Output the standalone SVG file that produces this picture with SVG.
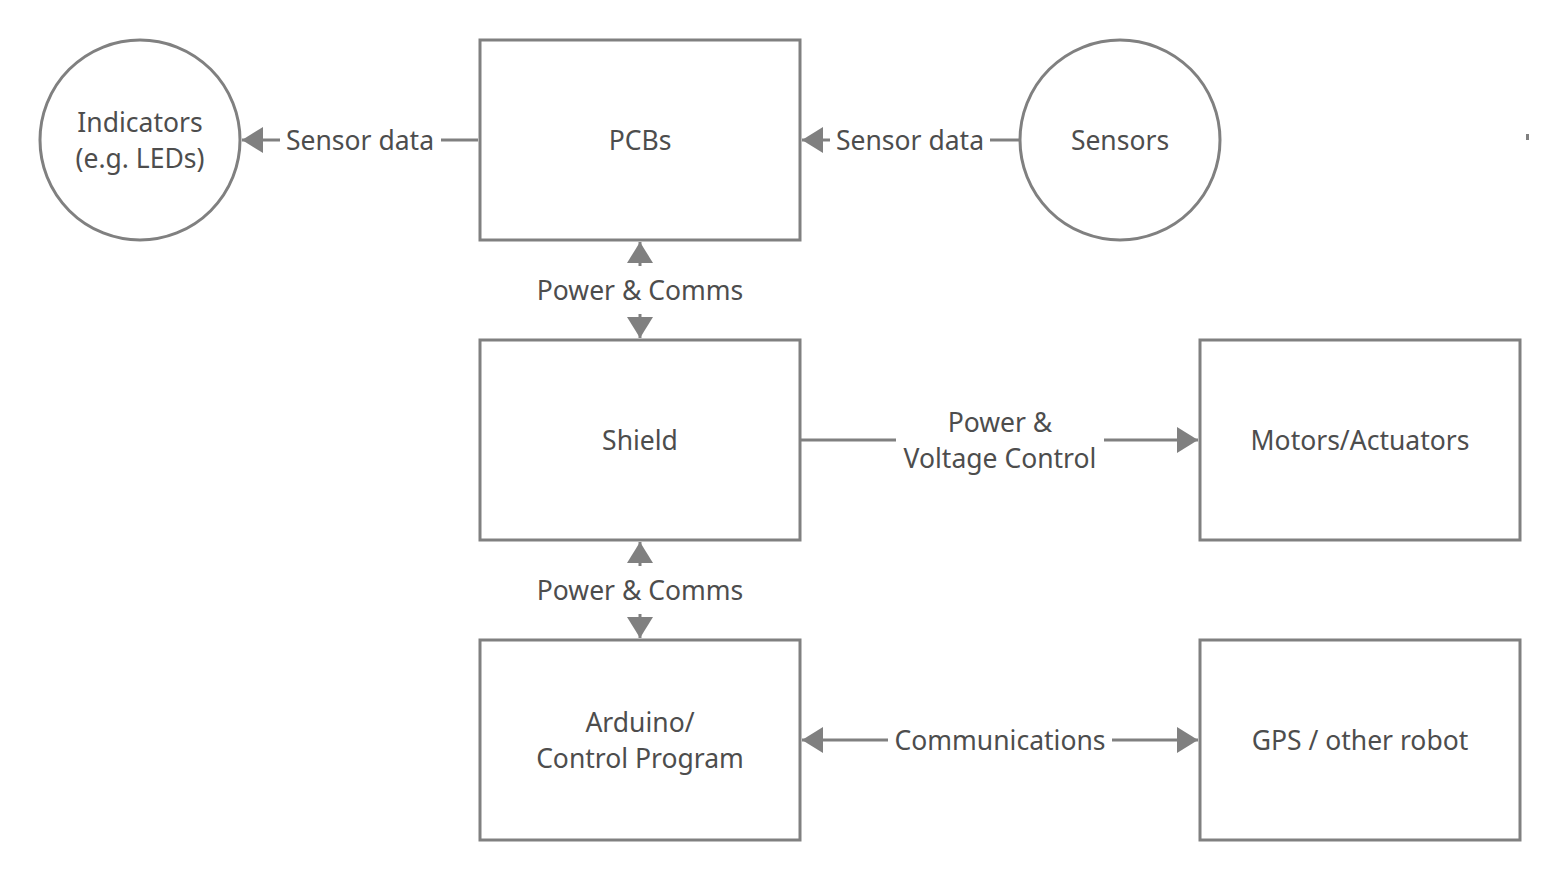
<svg xmlns="http://www.w3.org/2000/svg" width="1568" height="880" viewBox="0 0 1568 880">
<defs>
<style>
.shape{fill:#ffffff;stroke:#808080;stroke-width:3}
.ln{fill:none;stroke:#808080;stroke-width:3}
.t{font-family:"Noto Sans","Open Sans",sans-serif;font-size:26.5px;fill:#4d4d4d;text-anchor:middle;dominant-baseline:central}
</style>
<marker id="ah" markerUnits="userSpaceOnUse" markerWidth="24" markerHeight="28" refX="21" refY="13" orient="auto" viewBox="0 0 24 28">
<path d="M0,0 L21,13 L0,26 Z" fill="#808080"/>
</marker>
</defs>
<rect width="1568" height="880" fill="#ffffff"/>
<g id="connectors">
<line class="ln" x1="478" y1="140" x2="441" y2="140"/>
<line class="ln" x1="280" y1="140" x2="242" y2="140" marker-end="url(#ah)"/>
<line class="ln" x1="1020" y1="140" x2="990" y2="140"/>
<line class="ln" x1="830" y1="140" x2="802" y2="140" marker-end="url(#ah)"/>
<line class="ln" x1="640" y1="266" x2="640" y2="242" marker-end="url(#ah)"/>
<line class="ln" x1="640" y1="314" x2="640" y2="338" marker-end="url(#ah)"/>
<line class="ln" x1="640" y1="566" x2="640" y2="542" marker-end="url(#ah)"/>
<line class="ln" x1="640" y1="614" x2="640" y2="638" marker-end="url(#ah)"/>
<line class="ln" x1="800" y1="440" x2="896" y2="440"/>
<line class="ln" x1="1104" y1="440" x2="1198" y2="440" marker-end="url(#ah)"/>
<line class="ln" x1="888" y1="740" x2="802" y2="740" marker-end="url(#ah)"/>
<line class="ln" x1="1112" y1="740" x2="1198" y2="740" marker-end="url(#ah)"/>
<text class="t" x="360" y="140">Sensor data</text>
<text class="t" x="910" y="140">Sensor data</text>
<text class="t" x="640" y="290">Power &amp; Comms</text>
<text class="t" x="640" y="590">Power &amp; Comms</text>
<text class="t" x="1000" y="422">Power &amp;</text>
<text class="t" x="1000" y="458">Voltage Control</text>
<text class="t" x="1000" y="740">Communications</text>
</g>
<g id="indicators">
<circle class="shape" cx="140" cy="140" r="100"/>
<text class="t" x="140" y="122">Indicators</text>
<text class="t" x="140" y="158">(e.g. LEDs)</text>
</g>
<g id="pcbs">
<rect class="shape" x="480" y="40" width="320" height="200"/>
<text class="t" x="640" y="140">PCBs</text>
</g>
<g id="sensors">
<circle class="shape" cx="1120" cy="140" r="100"/>
<text class="t" x="1120" y="140">Sensors</text>
</g>
<g id="shield">
<rect class="shape" x="480" y="340" width="320" height="200"/>
<text class="t" x="640" y="440">Shield</text>
</g>
<g id="motors">
<rect class="shape" x="1200" y="340" width="320" height="200"/>
<text class="t" x="1360" y="440">Motors/Actuators</text>
</g>
<g id="arduino">
<rect class="shape" x="480" y="640" width="320" height="200"/>
<text class="t" x="640" y="722">Arduino/</text>
<text class="t" x="640" y="758">Control Program</text>
</g>
<g id="gps">
<rect class="shape" x="1200" y="640" width="320" height="200"/>
<text class="t" x="1360" y="740">GPS / other robot</text>
</g>
<rect x="1526" y="134" width="3" height="6" fill="#808080"/>
</svg>
